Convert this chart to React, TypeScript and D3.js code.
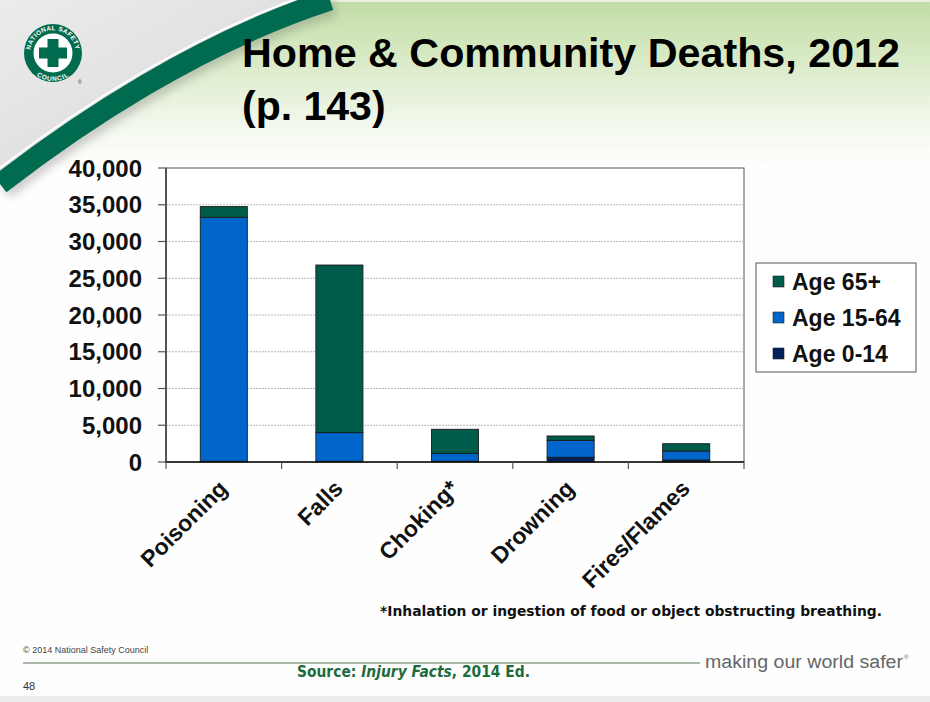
import React from "react";
import * as d3 from "d3";

const categories = ["Poisoning", "Falls", "Choking*", "Drowning", "Fires/Flames"];
const age0to14 = [100, 100, 100, 640, 270];
const age15to64 = [33200, 3900, 1080, 2310, 1230];
const age65plus = [1450, 22800, 3270, 590, 990];
const yTicks = [0, 5000, 10000, 15000, 20000, 25000, 30000, 35000, 40000];
const seriesKeys = ["a0", "a15", "a65"];
const seriesLabels = ["Age 0-14", "Age 15-64", "Age 65+"];
const seriesColors = ["#00205c", "#0066cc", "#005c4a"];

const FONT = "'Liberation Sans', Arial, sans-serif";

export default function App() {
  const left = 166, right = 744, top = 168, bottom = 462;
  const x = d3.scaleBand<string>().domain(categories).range([left, right]).padding(0);
  const y = d3.scaleLinear().domain([0, 40000]).range([bottom, top]);
  const barW = x.bandwidth() * 0.407;

  const rows = categories.map((c, i) => ({ cat: c, a0: age0to14[i], a15: age15to64[i], a65: age65plus[i] }));
  const stacked = d3.stack<any>().keys(seriesKeys)(rows);
  const fmt = d3.format(",");

  const swoosh = "M 0,184 C 80,122 200,42 330,0";
  const grayArea = "M 0,0 L 330,0 C 200,42 80,122 0,184 Z";

  const ringR = 24.5;
  const cx = 53, cy = 53;

  return (
    <svg width={930} height={702} style={{ position: "absolute", left: 0, top: 0, background: "#fff" }}>
      <defs>
        <linearGradient id="hdr" x1="0" y1="0" x2="0" y2="1">
          <stop offset="0" stopColor="#c2dca4" />
          <stop offset="0.35" stopColor="#d9eac6" />
          <stop offset="0.75" stopColor="#f3f8ee" />
          <stop offset="1" stopColor="#ffffff" />
        </linearGradient>
        <linearGradient id="gray" x1="0" y1="0" x2="1" y2="1">
          <stop offset="0" stopColor="#ececec" />
          <stop offset="0.6" stopColor="#dedede" />
          <stop offset="1" stopColor="#c9c9c9" />
        </linearGradient>
        <filter id="blur" x="-20%" y="-20%" width="140%" height="140%">
          <feGaussianBlur stdDeviation="4" />
        </filter>
        <path id="ringTop" d={`M ${cx - ringR},${cy} A ${ringR},${ringR} 0 0 1 ${cx + ringR},${cy}`} />
        <path id="ringBot" d={`M ${cx - ringR - 3.5},${cy} A ${ringR + 3.5},${ringR + 3.5} 0 0 0 ${cx + ringR + 3.5},${cy}`} />
      </defs>

      {/* slide background */}
      <rect x={0} y={0} width={930} height={702} fill="#fefefe" />
      <rect x={0} y={0} width={930} height={170} fill="url(#hdr)" />
      <rect x={0} y={0} width={930} height={2} fill="#e8efe2" />
      <path d={grayArea} fill="url(#gray)" />
      <path d={swoosh} fill="none" stroke="#777" strokeWidth={22} opacity={0.35} filter="url(#blur)" transform="translate(4,5)" />
      <path d={swoosh} fill="none" stroke="#fff" strokeWidth={2} transform="translate(-8,-10)" />
      <path d={swoosh} fill="none" stroke="#006b4f" strokeWidth={21} />
      <rect x={0} y={696} width={930} height={6} fill="#ececec" />

      {/* logo */}
      <circle cx={cx} cy={cy} r={29} fill="#006b4f" />
      <circle cx={cx} cy={cy} r={19.5} fill="#fff" />
      <rect x={cx - 5.5} y={cy - 14} width={11} height={28} fill="#006b4f" />
      <rect x={cx - 14} y={cy - 5.5} width={28} height={11} fill="#006b4f" />
      <text fontFamily={FONT} fontWeight="bold" fontSize={6.5} fill="#fff" letterSpacing={0.6}>
        <textPath href="#ringTop" startOffset="50%" textAnchor="middle" dominantBaseline="middle">NATIONAL SAFETY</textPath>
      </text>
      <text fontFamily={FONT} fontWeight="bold" fontSize={6.5} fill="#fff" letterSpacing={0.8}>
        <textPath href="#ringBot" startOffset="50%" textAnchor="middle">COUNCIL</textPath>
      </text>
      <text x={78} y={84} fontFamily={FONT} fontSize={5} fill="#333">®</text>

      {/* title */}
      <text x={242} y={67} fontFamily={FONT} fontWeight="bold" fontSize={41} fill="#000" textLength={658} lengthAdjust="spacingAndGlyphs">
        Home &amp; Community Deaths, 2012
      </text>
      <text x={242} y={120} fontFamily={FONT} fontWeight="bold" fontSize={41} fill="#000">
        (p. 143)
      </text>

      {/* plot area */}
      <rect x={left} y={top} width={right - left} height={bottom - top} fill="#fff" stroke="#555" strokeWidth={1} />
      {yTicks.filter(t => t > 0 && t < 40000).map(t => (
        <line key={"g" + t} x1={left} x2={right} y1={y(t)} y2={y(t)} stroke="#b8b8b8" strokeWidth={1} strokeDasharray="2,1" />
      ))}

      {/* bars */}
      {stacked.map((s, si) => (
        <g key={s.key}>
          {s.map((d: any, i: number) => (
            <rect
              key={i}
              x={(x(d.data.cat) as number) + x.bandwidth() / 2 - barW / 2}
              y={y(d[1])}
              width={barW}
              height={y(d[0]) - y(d[1])}
              fill={seriesColors[si]}
              stroke="#1a1a1a"
              strokeWidth={0.9}
            />
          ))}
        </g>
      ))}

      {/* axes */}
      <line x1={left} x2={left} y1={top} y2={bottom + 1} stroke="#555" strokeWidth={2} />
      <line x1={left} x2={right} y1={bottom} y2={bottom} stroke="#111" strokeWidth={1.5} />
      {yTicks.map(t => (
        <g key={"t" + t}>
          <line x1={158} x2={left} y1={y(t)} y2={y(t)} stroke="#555" strokeWidth={1.2} />
          <text x={142} y={y(t) + 8.5} textAnchor="end" fontFamily={FONT} fontWeight="bold" fontSize={24} fill="#111">
            {fmt(t)}
          </text>
        </g>
      ))}
      {categories.concat(["__end"]).map((c, i) => {
        const xx = left + i * x.step();
        return <line key={"xt" + i} x1={xx} x2={xx} y1={bottom} y2={bottom + 7} stroke="#555" strokeWidth={1.2} />;
      })}
      {categories.map(c => {
        const cxp = (x(c) as number) + x.bandwidth() / 2 + 5;
        return (
          <text key={"xl" + c} transform={`translate(${cxp},${490}) rotate(-45)`} textAnchor="end" fontFamily={FONT} fontWeight="bold" fontSize={23} fill="#111">
            {c}
          </text>
        );
      })}

      {/* legend */}
      <rect x={756} y={263} width={160} height={109} fill="#fff" stroke="#555" strokeWidth={1} />
      {[2, 1, 0].map((si, row) => (
        <g key={"lg" + si}>
          <rect x={773} y={276 + row * 36} width={11} height={11} fill={seriesColors[si]} stroke="#222" strokeWidth={0.6} />
          <text x={792} y={290 + row * 36} fontFamily={FONT} fontWeight="bold" fontSize={23} fill="#111">
            {seriesLabels[si]}
          </text>
        </g>
      ))}

      {/* footnote & footer */}
      <text x={380} y={616} fontFamily="'DejaVu Sans', Verdana, sans-serif" fontWeight="bold" fontSize={14.5} fill="#111" textLength={502} lengthAdjust="spacingAndGlyphs">
        *Inhalation or ingestion of food or object obstructing breathing.
      </text>
      <text x={23} y={653} fontFamily={FONT} fontSize={9} fill="#444">© 2014 National Safety Council</text>
      <line x1={23} x2={700} y1={663} y2={663} stroke="#8ea08e" strokeWidth={1.5} />
      <text x={705} y={668} fontFamily={FONT} fontSize={18} fill="#666" textLength={198} lengthAdjust="spacingAndGlyphs">making our world safer</text>
      <text x={904} y={659} fontFamily={FONT} fontSize={6} fill="#666">®</text>
      <text x={23} y={690} fontFamily={FONT} fontSize={11} fill="#333">48</text>
      <text x={297} y={677} fontFamily="'DejaVu Sans', Verdana, sans-serif" fontWeight="bold" fontSize={15} fill="#1d6b3c" textLength={233} lengthAdjust="spacingAndGlyphs">
        Source: <tspan fontStyle="italic">Injury Facts</tspan>, 2014 Ed.
      </text>
    </svg>
  );
}
